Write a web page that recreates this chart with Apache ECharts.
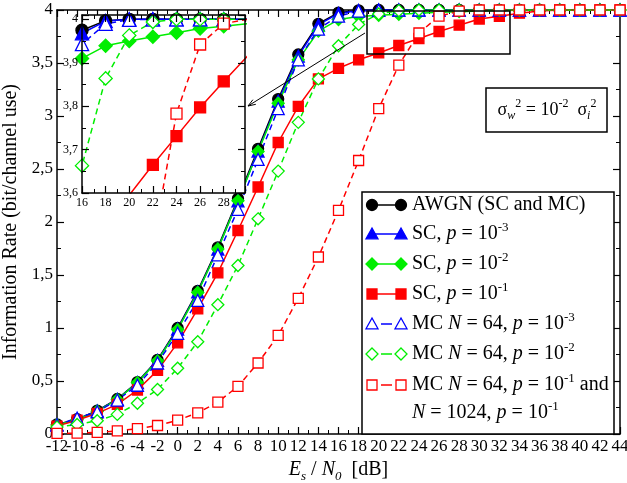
<!DOCTYPE html>
<html>
<head>
<meta charset="utf-8">
<script src="https://cdn.jsdelivr.net/npm/echarts@6/dist/echarts.min.js"></script>
<style>
  html, body { margin: 0; padding: 0; background: #fff; }
  #chart { width: 627px; height: 483px; }
</style>
</head>
<body>
<div id="chart"></div>
<script>
// Es/N0 [dB]
const snr = [-12, -10, -8, -6, -4, -2, 0, 2, 4, 6, 8, 10, 12, 14, 16, 18, 20, 22, 24, 26, 28, 30, 32, 34, 36, 38, 40, 42, 44];

// information rate (bit/channel use)
const awgn = [0.09, 0.14, 0.22, 0.33, 0.49, 0.70, 1.00, 1.35, 1.76, 2.22, 2.69, 3.16, 3.58, 3.87, 3.975, 3.997, 4, 4, 4, 4, 4, 4, 4, 4, 4, 4, 4, 4, 4];
const sc3 = [0.088, 0.138, 0.218, 0.327, 0.486, 0.695, 0.99, 1.34, 1.745, 2.20, 2.67, 3.14, 3.565, 3.86, 3.968, 3.996, 4, 4, 4, 4, 4, 4, 4, 4, 4, 4, 4, 4, 4];
const sc2 = [0.085, 0.135, 0.215, 0.325, 0.485, 0.69, 0.985, 1.335, 1.745, 2.20, 2.665, 3.12, 3.53, 3.80, 3.91, 3.939, 3.95, 3.96, 3.969, 3.979, 3.984, 3.99, 3.995, 3.998, 4, 4, 4, 4, 4];
const sc1 = [0.075, 0.13, 0.195, 0.28, 0.415, 0.60, 0.86, 1.18, 1.52, 1.92, 2.33, 2.75, 3.09, 3.35, 3.45, 3.53, 3.595, 3.665, 3.731, 3.797, 3.857, 3.915, 3.94, 3.97, 3.99, 4, 4, 4, 4];
const mc3 = [0.085, 0.15, 0.21, 0.32, 0.46, 0.67, 0.95, 1.26, 1.69, 2.12, 2.59, 3.07, 3.53, 3.82, 3.943, 3.99, 3.999, 4, 4, 4, 4, 4, 4, 4, 4, 4, 4, 4, 4];
const mc2 = [0.065, 0.09, 0.125, 0.185, 0.29, 0.42, 0.62, 0.87, 1.22, 1.59, 2.03, 2.48, 2.94, 3.35, 3.663, 3.864, 3.963, 3.994, 4, 4, 4, 4, 4, 4, 4, 4, 4, 4, 4];
const mc1 = [0.005, 0.008, 0.015, 0.03, 0.05, 0.08, 0.13, 0.2, 0.3, 0.45, 0.67, 0.93, 1.28, 1.67, 2.11, 2.58, 3.07, 3.48, 3.783, 3.942, 3.99, 4, 4, 4, 4, 4, 4, 4, 4];

const FONT = '"Liberation Serif", "Times New Roman", serif';

const curves = [
  { data: awgn, symbol: 'circle',   size: 11, color: '#000000', filled: true,  dashed: false, label: '{n|AWGN (SC and MC)}' },
  { data: sc3,  symbol: 'triangle', size: 12, color: '#0000ff', filled: true,  dashed: false, label: '{n|SC, }{i|p}{n| = 10}{s|-3}' },
  { data: sc2,  symbol: 'diamond',  size: 12, color: '#00ee00', filled: true,  dashed: false, label: '{n|SC, }{i|p}{n| = 10}{s|-2}' },
  { data: sc1,  symbol: 'rect',     size: 10, color: '#ff0000', filled: true,  dashed: false, label: '{n|SC, }{i|p}{n| = 10}{s|-1}' },
  { data: mc3,  symbol: 'triangle', size: 12, color: '#0000ff', filled: false, dashed: true,  label: '{n|MC }{i|N}{n| = 64, }{i|p}{n| = 10}{s|-3}' },
  { data: mc2,  symbol: 'diamond',  size: 12, color: '#00ee00', filled: false, dashed: true,  label: '{n|MC }{i|N}{n| = 64, }{i|p}{n| = 10}{s|-2}' },
  { data: mc1,  symbol: 'rect',     size: 10, color: '#ff0000', filled: false, dashed: true,  label: '{n|MC }{i|N}{n| = 64, }{i|p}{n| = 10}{s|-1}{n| and}' },
];

const chart = echarts.init(document.getElementById('chart'));

function xAxis(grid, min, max, pos, fontSize, formatter, z, showMin) {
  return {
    type: 'value', gridIndex: grid, position: pos, min, max, interval: 2, z,
    axisLine: { show: true, onZero: false, lineStyle: { color: '#000', width: 1.5 } },
    axisTick: { show: true, inside: true, length: 7, lineStyle: { color: '#000', width: 1.2 } },
    minorTick: { show: true, splitNumber: 2, length: 4, lineStyle: { color: '#000', width: 1 } },
    axisLabel: fontSize ? {
      show: true, color: '#000', fontFamily: FONT, fontSize, margin: 4, formatter,
      showMinLabel: showMin, showMaxLabel: true, hideOverlap: false,
    } : { show: false },
    splitLine: { show: false },
  };
}

function yAxis(grid, min, max, interval, pos, fontSize, formatter, z) {
  return {
    type: 'value', gridIndex: grid, position: pos, min, max, interval, z,
    axisLine: { show: true, onZero: false, lineStyle: { color: '#000', width: 1.5 } },
    axisTick: { show: true, inside: true, length: 7, lineStyle: { color: '#000', width: 1.2 } },
    minorTick: { show: true, splitNumber: 2, length: 4, lineStyle: { color: '#000', width: 1 } },
    axisLabel: fontSize ? { show: true, color: '#000', fontFamily: FONT, fontSize, margin: 4, formatter, showMinLabel: true, hideOverlap: false } : { show: false },
    splitLine: { show: false },
  };
}

const commaLabel = v => String(v).replace('.', ',');
const insetY = v => {
  const r = Math.round(v * 10) / 10;
  return Math.abs(v - r) > 1e-6 ? '' : String(r).replace('.', ',');
};
const insetX = v => (Math.abs(v - Math.round(v)) < 1e-6 && Math.round(v) % 2 === 0) ? String(Math.round(v)) : '';

function makeSeries(c, xi, yi, scale, z) {
  return {
    type: 'line', xAxisIndex: xi, yAxisIndex: yi, z,
    data: snr.map((x, i) => [x, c.data[i]]),
    symbol: c.symbol, symbolSize: c.size * scale,
    lineStyle: { color: c.color, width: 1.5, type: c.dashed ? [6, 4] : 'solid' },
    itemStyle: { color: c.filled ? c.color : '#fff', borderColor: c.color, borderWidth: 1.3 },
    clip: true, silent: true,
  };
}

// legend drawn as graphic
const rowY = [205, 234, 264, 294, 324, 354, 385];
const rich = {
  n: { fontFamily: FONT, fontSize: 20, lineHeight: 26, color: '#000' },
  i: { fontFamily: FONT, fontSize: 20, lineHeight: 26, fontStyle: 'italic', color: '#000' },
  s: { fontFamily: FONT, fontSize: 13, lineHeight: 13, verticalAlign: 'top', color: '#000' },
  b: { fontFamily: FONT, fontSize: 13, lineHeight: 13, verticalAlign: 'bottom', fontStyle: 'italic', color: '#000' },
};

function marker(c, x, y) {
  const style = { fill: c.filled ? c.color : '#fff', stroke: c.color, lineWidth: 1.3 };
  const r = c.size / 2;
  if (c.symbol === 'circle') return { type: 'circle', z: 22, shape: { cx: x, cy: y, r: r }, style };
  if (c.symbol === 'rect') return { type: 'rect', z: 22, shape: { x: x - r, y: y - r, width: 2 * r, height: 2 * r }, style };
  if (c.symbol === 'diamond') return { type: 'polygon', z: 22, shape: { points: [[x, y - r], [x + r, y], [x, y + r], [x - r, y]] }, style };
  return { type: 'polygon', z: 22, shape: { points: [[x, y - r], [x + r, y + r * 0.8], [x - r, y + r * 0.8]] }, style };
}

const graphics = [
  { type: 'rect', z: 20, shape: { x: 362, y: 192, width: 252, height: 242 }, style: { fill: '#fff', stroke: '#000', lineWidth: 1.5 } },
];
curves.forEach((c, k) => {
  const y = rowY[k];
  graphics.push({
    type: 'line', z: 21,
    shape: c.dashed ? { x1: 381, y1: y, x2: 392, y2: y } : { x1: 372, y1: y, x2: 401, y2: y },
    style: { stroke: c.color, lineWidth: 1.5 },
  });
  graphics.push(marker(c, 372, y), marker(c, 401, y));
  graphics.push({
    type: 'text', z: 22, x: 412, y: y,
    style: { text: c.label, rich, fill: '#000', verticalAlign: 'middle', align: 'left', textVerticalAlign: 'middle' },
  });
});
graphics.push({
  type: 'text', z: 22, x: 412, y: 413,
  style: { text: '{i|N}{n| = 1024, }{i|p}{n| = 10}{s|-1}', rich, fill: '#000', verticalAlign: 'middle', align: 'left', textVerticalAlign: 'middle' },
});

// sigma box
const sigRich = {
  n: { fontFamily: FONT, fontSize: 18, lineHeight: 24, color: '#000' },
  s: { fontFamily: FONT, fontSize: 12, lineHeight: 12, verticalAlign: 'top', color: '#000' },
  b: { fontFamily: FONT, fontSize: 12, lineHeight: 12, verticalAlign: 'bottom', fontStyle: 'italic', color: '#000' },
};
graphics.push(
  { type: 'rect', z: 20, shape: { x: 486, y: 88, width: 121, height: 44 }, style: { fill: '#fff', stroke: '#000', lineWidth: 1.5 } },
  {
    type: 'text', z: 22, x: 547, y: 110,
    style: { text: '{n|σ}{b|w}{s|2}{n| = 10}{s|-2}{n|  σ}{b|i}{s|2}', rich: sigRich, fill: '#000', align: 'center', verticalAlign: 'middle', textAlign: 'center', textVerticalAlign: 'middle' },
  },
  // zoom window and arrow to the inset
  { type: 'rect', z: 20, shape: { x: 367, y: 11, width: 143, height: 43 }, style: { fill: 'none', stroke: '#000', lineWidth: 1.5 } },
  { type: 'line', z: 20, shape: { x1: 365, y1: 33, x2: 248, y2: 106 }, style: { stroke: '#000', lineWidth: 1 } },
  { type: 'polyline', z: 20, shape: { points: [[255.8, 104.3], [248, 106], [252.9, 99.7]] }, style: { stroke: '#000', lineWidth: 1, fill: 'none' } },
);

const mainSeries = curves.map(c => makeSeries(c, 0, 0, 1, 2));
const insetSeries = curves.map(c => makeSeries(c, 2, 2, 1.1, 11));

// extra bottom axis that only carries the crowded "-12" label
const firstLabelAxis = {
  type: 'value', gridIndex: 0, position: 'bottom', min: -12, max: 44, interval: 2,
  axisLine: { show: false }, axisTick: { show: false }, splitLine: { show: false },
  axisLabel: {
    show: true, color: '#000', fontFamily: FONT, fontSize: 17, margin: 4,
    showMinLabel: true, hideOverlap: false,
    formatter: v => v === -12 ? '-12' : '',
  },
};

chart.setOption({
  animation: false,
  backgroundColor: '#fff',
  grid: [
    { left: 57, right: 7, top: 10, bottom: 49, containLabel: false, outerBoundsMode: 'none' },
    { left: 82, top: 15, width: 163, height: 178, show: true, backgroundColor: '#fff', borderWidth: 0, z: 10, containLabel: false, outerBoundsMode: 'none' },
  ],
  xAxis: [
    Object.assign(xAxis(0, -12, 44, 'bottom', 17, v => String(v), 0, false), {
      name: '{i|E}{b|s}{n| / }{i|N}{b|0}{n|  [dB]}', nameLocation: 'middle', nameGap: 20,
      nameTextStyle: { rich: {
        n: { fontFamily: FONT, fontSize: 20, lineHeight: 26, color: '#000' },
        i: { fontFamily: FONT, fontSize: 20, lineHeight: 26, fontStyle: 'italic', color: '#000' },
        b: { fontFamily: FONT, fontSize: 13, lineHeight: 13, verticalAlign: 'bottom', fontStyle: 'italic', color: '#000' },
      } },
    }),
    xAxis(0, -12, 44, 'top', 0, null, 0),
    xAxis(1, 16, 29.8, 'bottom', 12, insetX, 12, true),
    xAxis(1, 16, 29.8, 'top', 0, null, 12),
    firstLabelAxis,
  ],
  yAxis: [
    Object.assign(yAxis(0, 0, 4, 0.5, 'left', 17, commaLabel, 0), {
      name: 'Information Rate (bit/channel use)', nameLocation: 'middle', nameGap: 31, nameRotate: 90,
      nameTextStyle: { fontFamily: FONT, fontSize: 20, color: '#000' },
    }),
    yAxis(0, 0, 4, 0.5, 'right', 0, null, 0),
    yAxis(1, 3.6, 4.01, 0.1, 'left', 12, insetY, 12),
    yAxis(1, 3.6, 4.01, 0.1, 'right', 0, null, 12),
  ],
  series: mainSeries.concat(insetSeries),
  graphic: graphics,
});
</script>
</body>
</html>
